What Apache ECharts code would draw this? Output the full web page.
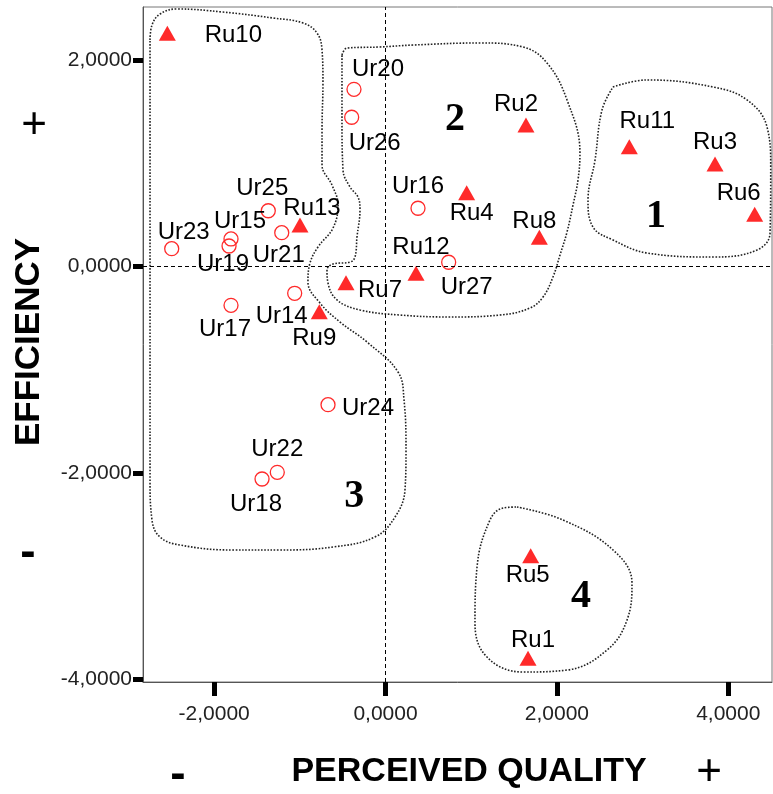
<!DOCTYPE html>
<html>
<head>
<meta charset="utf-8">
<script src="https://cdn.jsdelivr.net/npm/echarts@6/dist/echarts.min.js"></script>
<style>
  html, body { margin: 0; padding: 0; background: #fff; }
  #chart { width: 773px; height: 794px; }
</style>
</head>
<body>
<div id="chart"></div>
<script>
// rural (triangle) and urban (circle) cases: [name, perceived quality, efficiency]
const ruralPoints = [
  ["Ru10", -2.546, 2.265], ["Ru2", 1.639, 1.375], ["Ru11", 2.845, 1.164],
  ["Ru3", 3.845, 0.996], ["Ru6", 4.308, 0.508], ["Ru4", 0.947, 0.718],
  ["Ru8", 1.795, 0.285], ["Ru13", -0.998, 0.405], ["Ru12", 0.356, -0.064],
  ["Ru7", -0.461, -0.155], ["Ru9", -0.773, -0.437], ["Ru5", 1.694, -2.805],
  ["Ru1", 1.663, -3.8],
];
const urbanPoints = [
  ["Ur20", -0.368, 1.721], ["Ur26", -0.395, 1.45], ["Ur25", -1.368, 0.543],
  ["Ur21", -1.211, 0.33], ["Ur15", -1.803, 0.269], ["Ur19", -1.826, 0.201],
  ["Ur23", -2.495, 0.175], ["Ur16", 0.379, 0.567], ["Ur27", 0.737, 0.043],
  ["Ur14", -1.06, -0.258], ["Ur17", -1.803, -0.375], ["Ur24", -0.671, -1.339],
  ["Ur22", -1.263, -1.995], ["Ur18", -1.441, -2.06],
];

// cluster numbers and hand-drawn outlines (data units)
const clusterNames = ["1", "2", "3", "4"];
const clusterCentres = [[3.156, 0.485], [0.811, 1.423], [-0.364, -2.232], [2.281, -3.202]];
const outline1 = [
  [2.655, 1.744], [3.051, 1.812], [3.822, 1.744], [4.218, 1.618], [4.452, 1.356],
  [4.495, 0.967], [4.487, 0.327], [4.335, 0.162], [3.822, 0.094], [3.051, 0.133],
  [2.655, 0.259], [2.421, 0.385], [2.363, 0.647], [2.445, 1.035], [2.526, 1.52],
  [2.655, 1.744],
];
const outline2 = [
  [-0.508, 2.054], [-0.449, 2.122], [-0.064, 2.132], [0.321, 2.151], [1.103, 2.171],
  [1.604, 2.132], [1.884, 1.977], [2.118, 1.618], [2.269, 1.103], [2.246, 0.841],
  [2.188, 0.599], [2.118, 0.337], [2.036, 0.113], [1.954, -0.1], [1.838, -0.294],
  [1.686, -0.401], [1.336, -0.469], [0.752, -0.488], [0.169, -0.469], [-0.298, -0.42],
  [-0.566, -0.323], [-0.671, -0.158], [-0.683, -0.032], [-0.613, 0.026], [-0.414, 0.045],
  [-0.356, 0.094], [-0.333, 0.288], [-0.298, 0.55], [-0.321, 0.676], [-0.414, 0.773],
  [-0.496, 0.938], [-0.508, 1.423], [-0.508, 2.054],
];
const outline3 = [
  [-2.748, 2.2], [-2.725, 2.345], [-2.632, 2.452], [-2.433, 2.501], [-1.896, 2.471],
  [-1.313, 2.413], [-0.963, 2.365], [-0.8, 2.268], [-0.741, 2.103], [-0.73, 1.783],
  [-0.741, 1.326], [-0.741, 0.987], [-0.625, 0.793], [-0.554, 0.599], [-0.613, 0.375],
  [-0.788, 0.191], [-0.881, 0.036], [-0.905, -0.149], [-0.765, -0.352], [-0.531, -0.537],
  [-0.216, -0.731], [0.146, -1.022], [0.216, -1.294], [0.239, -1.779], [0.227, -2.167],
  [0.111, -2.429], [-0.123, -2.623], [-0.613, -2.72], [-1.231, -2.749], [-1.78, -2.749],
  [-2.398, -2.701], [-2.632, -2.623], [-2.725, -2.458], [-2.748, -2.07], [-2.748, -0.323],
  [-2.748, 1.618], [-2.748, 2.2],
];
const outline4 = [
  [1.534, -2.332], [2.071, -2.458], [2.655, -2.749], [2.876, -3.069], [2.818, -3.429],
  [2.585, -3.72], [2.118, -3.914], [1.604, -3.933], [1.184, -3.788], [1.044, -3.458],
  [1.068, -2.914], [1.219, -2.458], [1.371, -2.342], [1.534, -2.332],
];

const xTicks = [-2, 0, 2, 4];
const yTicks = [-4, -2, 0, 2];

// label placement around each marker, in pixels
const labelOffset = {
  Ru10: [66, 2], Ru2: [-10, -21], Ru11: [18, -25], Ru3: [0, -22], Ru6: [-16, -21],
  Ru4: [5, 21], Ru8: [-5, -16], Ru13: [12, -17], Ru12: [5, -26], Ru7: [34, 8],
  Ru9: [-5, 27], Ru5: [-3, 20], Ru1: [5, -18],
  Ur20: [24, -20], Ur26: [23, 26], Ur25: [-6, -22], Ur21: [-3, 23], Ur15: [9, -18],
  Ur19: [-6, 18], Ur23: [12, -16], Ur16: [0, -22], Ur27: [18, 25], Ur14: [-13, 23],
  Ur17: [-6, 24], Ur24: [40, 4], Ur22: [0, -23], Ur18: [-6, 25],
};

const RED = "#ff2a2a";
const SANS = "'Liberation Sans', Arial, sans-serif";
const fmt = (v) => v.toFixed(4).replace(".", ",");

const toPoints = (rows) =>
  rows.map(([name, x, y]) => ({
    name,
    value: [x, y],
    label: { offset: labelOffset[name] || [0, 0] },
  }));

const pointLabel = {
  show: true, position: "inside", formatter: "{b}", opacity: 1,
  color: "#000", fontSize: 24, fontFamily: SANS,
};

const outlineSeries = [outline1, outline2, outline3, outline4].map((pts) => ({
  type: "line",
  data: pts,
  smooth: 0.4,
  symbol: "none",
  silent: true,
  z: 1,
  lineStyle: { color: "#222", width: 1.6, type: [1.6, 1.6] },
}));

const chart = echarts.init(document.getElementById("chart"));

const option = {
  animation: false,
  backgroundColor: "#fff",
  grid: {
    left: 143, top: 7, width: 629, height: 675,
    containLabel: false, outerBoundsMode: "none",
    show: true, borderColor: "#777", borderWidth: 1,
  },
  xAxis: {
    type: "value",
    min: -2.83,
    max: 4.51,
    axisLine: { show: true, onZero: false, lineStyle: { color: "#555", width: 1 } },
    axisTick: { show: true, customValues: xTicks, length: 14, lineStyle: { color: "#000", width: 5 } },
    axisLabel: { customValues: xTicks, formatter: fmt, margin: 22, color: "#222", fontSize: 21, fontFamily: SANS },
    splitLine: { show: false },
  },
  yAxis: {
    type: "value",
    min: -4.03,
    max: 2.52,
    axisLine: { show: true, onZero: false, lineStyle: { color: "#555", width: 1 } },
    axisTick: { show: true, customValues: yTicks, length: 10, lineStyle: { color: "#000", width: 5 } },
    axisLabel: { customValues: yTicks, formatter: fmt, margin: 11, color: "#222", fontSize: 21, fontFamily: SANS },
    splitLine: { show: false },
  },
  series: [
    ...outlineSeries,
    {
      type: "scatter",
      data: [],
      silent: true,
      markLine: {
        silent: true,
        symbol: "none",
        label: { show: false },
        lineStyle: { color: "#000", width: 1, type: [4, 3] },
        data: [{ xAxis: 0 }, { yAxis: 0 }],
      },
    },
    {
      name: "Rural",
      type: "scatter",
      data: toPoints(ruralPoints),
      symbol: "triangle",
      symbolSize: [17, 15],
      itemStyle: { color: RED, opacity: 1 },
      z: 3,
      label: pointLabel,
    },
    {
      name: "Urban",
      type: "scatter",
      data: toPoints(urbanPoints),
      symbol: "circle",
      symbolSize: 14,
      itemStyle: { color: "rgba(255,255,255,0)", borderColor: RED, borderWidth: 1.3, opacity: 1 },
      z: 3,
      label: pointLabel,
    },
    {
      type: "scatter",
      data: clusterNames.map((n, i) => ({ name: n, value: clusterCentres[i] })),
      symbolSize: 0,
      silent: true,
      z: 3,
      itemStyle: { opacity: 1 },
      label: {
        show: true, position: "inside", formatter: "{b}", opacity: 1,
        color: "#000", fontSize: 40, fontWeight: "bold",
        fontFamily: "'Liberation Serif', 'Times New Roman', serif",
      },
    },
  ],
  graphic: [
    {
      type: "text", x: 29, y: 342, rotation: Math.PI / 2,
      style: { text: "EFFICIENCY", font: "bold 35px " + SANS, fill: "#000", align: "center", verticalAlign: "middle" },
    },
    {
      type: "text", x: 34, y: 126,
      style: { text: "+", font: "44px " + SANS, fill: "#000", align: "center", verticalAlign: "middle" },
    },
    {
      type: "text", x: 28, y: 553,
      style: { text: "-", font: "bold 46px " + SANS, fill: "#000", align: "center", verticalAlign: "middle" },
    },
    {
      type: "text", x: 469, y: 772,
      style: { text: "PERCEIVED QUALITY", font: "bold 34px " + SANS, fill: "#000", align: "center", verticalAlign: "middle" },
    },
    {
      type: "text", x: 178, y: 775,
      style: { text: "-", font: "bold 46px " + SANS, fill: "#000", align: "center", verticalAlign: "middle" },
    },
    {
      type: "text", x: 709, y: 773,
      style: { text: "+", font: "44px " + SANS, fill: "#000", align: "center", verticalAlign: "middle" },
    },
  ],
};

chart.setOption(option);
</script>
</body>
</html>
